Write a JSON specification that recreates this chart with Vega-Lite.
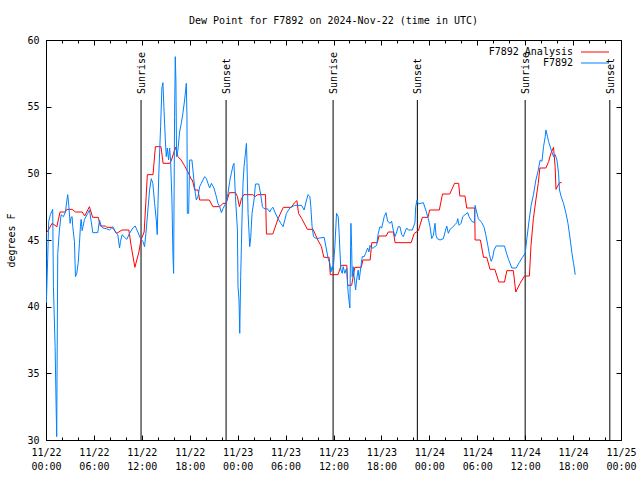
{
  "$schema": "https://vega.github.io/schema/vega-lite/v6.json",
  "width": 575,
  "height": 400,
  "autosize": {"type": "none"},
  "padding": {"left": 46, "top": 40, "right": 19, "bottom": 40},
  "background": "white",
  "config": {
    "view": {"stroke": "black", "strokeWidth": 1},
    "font": "DejaVu Sans Mono",
    "axis": {"labelFont": "DejaVu Sans Mono", "labelFontSize": 10, "labelColor": "black", "tickColor": "black", "grid": false, "domain": false, "titleFont": "DejaVu Sans Mono", "titleFontSize": 10, "titleFontWeight": "normal", "titleColor": "black"}
  },
  "title": {"text": "Dew Point for F7892 on 2024-Nov-22 (time in UTC)", "font": "DejaVu Sans Mono", "fontSize": 10, "fontWeight": "normal", "color": "black", "anchor": "middle", "offset": 9},
  "datasets": {
    "analysis": [
      {"h":0.0,"dp":45.5},{"h":0.30,"dp":45.75},{"h":0.76,"dp":46.25},{"h":1.36,"dp":46.0},{"h":1.76,"dp":47.1},{"h":2.42,"dp":47.1},{"h":2.62,"dp":47.3},{"h":3.27,"dp":47.3},{"h":3.68,"dp":47.1},{"h":4.53,"dp":47.1},{"h":4.84,"dp":46.8},{"h":5.44,"dp":47.5},{"h":5.84,"dp":46.7},{"h":6.55,"dp":46.7},{"h":6.80,"dp":46.05},{"h":7.45,"dp":46.05},{"h":7.60,"dp":45.95},{"h":8.26,"dp":45.95},{"h":8.46,"dp":45.8},{"h":8.86,"dp":45.5},{"h":9.52,"dp":45.75},{"h":10.37,"dp":45.75},{"h":10.68,"dp":44.5},{"h":11.13,"dp":42.95},{"h":11.63,"dp":44.1},{"h":11.89,"dp":45.0},{"h":12.29,"dp":45.6},{"h":12.54,"dp":48.25},{"h":12.69,"dp":49.9},{"h":13.40,"dp":49.9},{"h":13.70,"dp":52.0},{"h":14.40,"dp":52.0},{"h":14.66,"dp":50.75},{"h":15.51,"dp":50.75},{"h":15.71,"dp":51.0},{"h":16.21,"dp":51.95},{"h":16.52,"dp":51.25},{"h":16.92,"dp":51.0},{"h":17.32,"dp":50.6},{"h":17.78,"dp":50.1},{"h":18.23,"dp":49.5},{"h":18.33,"dp":49.5},{"h":18.63,"dp":48.75},{"h":19.04,"dp":48.75},{"h":19.24,"dp":48.0},{"h":20.45,"dp":48.0},{"h":20.90,"dp":47.5},{"h":21.76,"dp":47.5},{"h":22.16,"dp":47.75},{"h":22.56,"dp":47.75},{"h":22.96,"dp":48.55},{"h":23.72,"dp":48.55},{"h":23.97,"dp":48.25},{"h":24.22,"dp":47.5},{"h":24.47,"dp":48.1},{"h":24.77,"dp":48.4},{"h":25.88,"dp":48.4},{"h":26.18,"dp":48.25},{"h":26.49,"dp":48.4},{"h":27.49,"dp":48.4},{"h":27.60,"dp":45.45},{"h":28.40,"dp":45.45},{"h":29.06,"dp":46.6},{"h":29.71,"dp":47.45},{"h":30.72,"dp":47.45},{"h":31.12,"dp":47.8},{"h":31.42,"dp":47.95},{"h":31.62,"dp":47.0},{"h":32.03,"dp":46.6},{"h":32.73,"dp":45.8},{"h":33.44,"dp":45.8},{"h":34.04,"dp":45.0},{"h":34.49,"dp":44.5},{"h":34.79,"dp":43.7},{"h":35.45,"dp":43.7},{"h":35.60,"dp":42.4},{"h":36.56,"dp":42.4},{"h":36.96,"dp":43.1},{"h":37.67,"dp":43.1},{"h":37.77,"dp":41.6},{"h":38.27,"dp":41.6},{"h":38.67,"dp":42.95},{"h":39.48,"dp":42.95},{"h":39.68,"dp":43.5},{"h":40.59,"dp":43.5},{"h":40.79,"dp":44.8},{"h":41.49,"dp":44.8},{"h":41.69,"dp":45.3},{"h":42.60,"dp":45.3},{"h":42.85,"dp":45.6},{"h":43.50,"dp":45.6},{"h":43.71,"dp":44.8},{"h":45.72,"dp":44.8},{"h":46.12,"dp":45.5},{"h":46.63,"dp":45.7},{"h":47.13,"dp":46.7},{"h":47.83,"dp":46.7},{"h":48.04,"dp":47.25},{"h":49.25,"dp":47.25},{"h":49.65,"dp":48.45},{"h":50.56,"dp":48.45},{"h":51.16,"dp":49.25},{"h":51.67,"dp":49.25},{"h":51.82,"dp":48.3},{"h":52.47,"dp":48.3},{"h":52.68,"dp":47.4},{"h":53.68,"dp":47.4},{"h":53.73,"dp":45.0},{"h":54.39,"dp":45.0},{"h":54.79,"dp":43.7},{"h":55.19,"dp":43.7},{"h":55.60,"dp":42.8},{"h":56.20,"dp":42.8},{"h":56.70,"dp":41.85},{"h":57.41,"dp":41.85},{"h":57.71,"dp":42.7},{"h":58.52,"dp":42.7},{"h":58.82,"dp":41.1},{"h":59.37,"dp":41.75},{"h":59.92,"dp":42.3},{"h":60.53,"dp":42.3},{"h":60.73,"dp":44.6},{"h":61.03,"dp":46.6},{"h":61.34,"dp":48.0},{"h":61.64,"dp":49.25},{"h":61.84,"dp":50.4},{"h":62.59,"dp":50.4},{"h":62.95,"dp":50.9},{"h":63.25,"dp":51.55},{"h":63.55,"dp":51.95},{"h":63.75,"dp":50.5},{"h":63.86,"dp":48.8},{"h":64.11,"dp":49.1},{"h":64.31,"dp":49.3},{"h":64.56,"dp":49.3}
    ],
    "obs": [
      {"h":0.0,"dp":45.6},{"h":0.05,"dp":40.3},{"h":0.21,"dp":43.6},{"h":0.34,"dp":46.4},{"h":0.55,"dp":46.9},{"h":0.84,"dp":47.3},{"h":0.93,"dp":41.5},{"h":1.14,"dp":37.0},{"h":1.27,"dp":32.5},{"h":1.34,"dp":30.25},{"h":1.47,"dp":44.0},{"h":1.68,"dp":45.75},{"h":1.89,"dp":46.9},{"h":2.18,"dp":46.75},{"h":2.43,"dp":47.1},{"h":2.60,"dp":47.9},{"h":2.72,"dp":48.4},{"h":2.85,"dp":47.6},{"h":3.02,"dp":46.25},{"h":3.15,"dp":46.7},{"h":3.27,"dp":46.75},{"h":3.35,"dp":46.0},{"h":3.56,"dp":44.9},{"h":3.69,"dp":42.25},{"h":3.85,"dp":42.5},{"h":4.03,"dp":43.25},{"h":4.19,"dp":44.75},{"h":4.31,"dp":46.0},{"h":4.40,"dp":46.55},{"h":4.53,"dp":45.7},{"h":4.82,"dp":46.55},{"h":5.23,"dp":47.0},{"h":5.44,"dp":47.25},{"h":5.66,"dp":46.4},{"h":5.86,"dp":45.55},{"h":6.48,"dp":45.55},{"h":6.70,"dp":46.5},{"h":6.91,"dp":46.05},{"h":7.11,"dp":45.9},{"h":7.54,"dp":45.85},{"h":7.95,"dp":45.75},{"h":8.37,"dp":46.0},{"h":8.79,"dp":45.5},{"h":8.99,"dp":45.4},{"h":9.21,"dp":44.4},{"h":9.33,"dp":44.9},{"h":9.54,"dp":45.4},{"h":9.83,"dp":45.2},{"h":10.12,"dp":45.05},{"h":10.46,"dp":45.5},{"h":10.87,"dp":45.9},{"h":11.17,"dp":46.05},{"h":11.50,"dp":45.6},{"h":11.84,"dp":45.1},{"h":12.13,"dp":44.9},{"h":12.34,"dp":44.5},{"h":12.55,"dp":45.75},{"h":12.76,"dp":47.25},{"h":12.97,"dp":48.75},{"h":13.18,"dp":49.6},{"h":13.38,"dp":49.25},{"h":13.60,"dp":47.75},{"h":13.81,"dp":46.5},{"h":13.93,"dp":45.4},{"h":14.01,"dp":47.5},{"h":14.13,"dp":50.0},{"h":14.35,"dp":53.5},{"h":14.51,"dp":56.4},{"h":14.64,"dp":56.8},{"h":14.76,"dp":55.0},{"h":14.94,"dp":52.5},{"h":15.06,"dp":51.25},{"h":15.19,"dp":51.9},{"h":15.35,"dp":51.0},{"h":15.48,"dp":51.9},{"h":15.60,"dp":51.0},{"h":15.77,"dp":48.0},{"h":15.89,"dp":44.0},{"h":15.98,"dp":42.5},{"h":16.10,"dp":54.25},{"h":16.19,"dp":58.75},{"h":16.27,"dp":56.9},{"h":16.35,"dp":51.25},{"h":16.52,"dp":51.75},{"h":16.73,"dp":53.1},{"h":16.94,"dp":53.75},{"h":17.14,"dp":54.5},{"h":17.36,"dp":55.5},{"h":17.57,"dp":56.75},{"h":17.65,"dp":54.25},{"h":17.70,"dp":47.0},{"h":17.86,"dp":47.0},{"h":17.99,"dp":51.0},{"h":18.27,"dp":51.0},{"h":18.40,"dp":50.25},{"h":18.52,"dp":49.5},{"h":18.70,"dp":48.5},{"h":18.83,"dp":48.0},{"h":19.03,"dp":48.25},{"h":19.24,"dp":49.0},{"h":19.45,"dp":49.25},{"h":19.65,"dp":49.5},{"h":19.87,"dp":49.75},{"h":20.08,"dp":49.6},{"h":20.28,"dp":49.25},{"h":20.49,"dp":48.9},{"h":20.71,"dp":49.25},{"h":21.03,"dp":48.9},{"h":21.33,"dp":48.25},{"h":21.53,"dp":47.75},{"h":21.75,"dp":47.5},{"h":21.96,"dp":47.05},{"h":22.16,"dp":47.35},{"h":22.38,"dp":47.6},{"h":22.59,"dp":47.85},{"h":22.79,"dp":48.5},{"h":23.00,"dp":49.4},{"h":23.21,"dp":50.0},{"h":23.42,"dp":50.6},{"h":23.54,"dp":50.75},{"h":23.72,"dp":48.25},{"h":23.97,"dp":45.75},{"h":24.04,"dp":41.5},{"h":24.17,"dp":40.5},{"h":24.26,"dp":38.0},{"h":24.38,"dp":42.25},{"h":24.54,"dp":46.5},{"h":24.67,"dp":49.25},{"h":24.80,"dp":50.5},{"h":24.97,"dp":51.5},{"h":25.10,"dp":52.25},{"h":25.17,"dp":50.75},{"h":25.30,"dp":47.0},{"h":25.51,"dp":44.5},{"h":25.64,"dp":45.2},{"h":25.80,"dp":47.0},{"h":26.05,"dp":48.0},{"h":26.23,"dp":49.2},{"h":26.64,"dp":49.2},{"h":26.89,"dp":48.4},{"h":27.10,"dp":47.5},{"h":27.30,"dp":47.35},{"h":27.61,"dp":47.35},{"h":27.81,"dp":47.3},{"h":28.02,"dp":47.1},{"h":28.23,"dp":47.35},{"h":28.43,"dp":47.45},{"h":28.65,"dp":47.1},{"h":29.06,"dp":46.6},{"h":29.40,"dp":46.25},{"h":29.69,"dp":46.0},{"h":29.90,"dp":46.5},{"h":30.11,"dp":47.0},{"h":30.53,"dp":47.4},{"h":31.15,"dp":47.6},{"h":31.99,"dp":47.6},{"h":32.32,"dp":47.25},{"h":32.62,"dp":48.0},{"h":32.82,"dp":48.4},{"h":33.04,"dp":48.25},{"h":33.16,"dp":47.5},{"h":33.32,"dp":46.0},{"h":33.50,"dp":45.25},{"h":33.88,"dp":45.1},{"h":34.29,"dp":45.15},{"h":34.83,"dp":45.2},{"h":35.13,"dp":44.25},{"h":35.33,"dp":43.6},{"h":35.54,"dp":43.25},{"h":35.67,"dp":42.6},{"h":35.83,"dp":43.0},{"h":35.96,"dp":42.75},{"h":36.17,"dp":44.5},{"h":36.38,"dp":47.0},{"h":36.59,"dp":46.75},{"h":36.71,"dp":45.5},{"h":36.80,"dp":44.25},{"h":36.92,"dp":42.75},{"h":37.09,"dp":42.5},{"h":37.21,"dp":43.0},{"h":37.42,"dp":42.5},{"h":37.64,"dp":42.9},{"h":37.84,"dp":41.0},{"h":38.05,"dp":39.9},{"h":38.18,"dp":46.25},{"h":38.27,"dp":44.5},{"h":38.34,"dp":42.25},{"h":38.47,"dp":43.0},{"h":38.59,"dp":42.25},{"h":38.77,"dp":41.25},{"h":38.89,"dp":42.0},{"h":39.09,"dp":42.75},{"h":39.22,"dp":42.0},{"h":39.43,"dp":43.0},{"h":39.60,"dp":43.75},{"h":39.85,"dp":43.75},{"h":40.02,"dp":44.0},{"h":40.27,"dp":44.4},{"h":40.44,"dp":44.1},{"h":40.56,"dp":44.6},{"h":40.77,"dp":44.4},{"h":40.97,"dp":44.4},{"h":41.19,"dp":44.5},{"h":41.40,"dp":44.6},{"h":41.60,"dp":45.5},{"h":41.82,"dp":46.0},{"h":42.03,"dp":45.9},{"h":42.35,"dp":46.75},{"h":42.57,"dp":47.05},{"h":42.78,"dp":46.4},{"h":43.07,"dp":46.25},{"h":43.28,"dp":46.4},{"h":43.48,"dp":45.75},{"h":43.70,"dp":45.25},{"h":43.91,"dp":45.6},{"h":44.11,"dp":46.0},{"h":44.32,"dp":46.0},{"h":44.54,"dp":45.4},{"h":44.74,"dp":45.25},{"h":44.95,"dp":45.6},{"h":45.16,"dp":45.9},{"h":45.36,"dp":45.75},{"h":45.87,"dp":45.75},{"h":46.20,"dp":46.3},{"h":46.29,"dp":47.5},{"h":46.46,"dp":48.0},{"h":46.62,"dp":47.7},{"h":47.25,"dp":47.8},{"h":47.55,"dp":47.25},{"h":47.87,"dp":46.6},{"h":48.09,"dp":46.0},{"h":48.30,"dp":45.1},{"h":48.50,"dp":45.35},{"h":48.63,"dp":45.9},{"h":48.71,"dp":46.25},{"h":48.84,"dp":45.35},{"h":49.00,"dp":45.1},{"h":49.34,"dp":45.0},{"h":49.75,"dp":45.1},{"h":49.97,"dp":45.6},{"h":50.18,"dp":46.05},{"h":50.38,"dp":45.5},{"h":50.59,"dp":45.8},{"h":50.88,"dp":45.95},{"h":51.22,"dp":46.15},{"h":51.43,"dp":46.3},{"h":51.56,"dp":46.6},{"h":51.72,"dp":46.1},{"h":51.97,"dp":46.25},{"h":52.19,"dp":46.75},{"h":52.47,"dp":46.9},{"h":52.81,"dp":47.05},{"h":52.97,"dp":46.75},{"h":53.32,"dp":46.4},{"h":53.64,"dp":46.3},{"h":53.73,"dp":47.6},{"h":53.86,"dp":47.25},{"h":54.14,"dp":46.6},{"h":54.57,"dp":46.3},{"h":54.86,"dp":45.95},{"h":55.07,"dp":45.4},{"h":55.32,"dp":44.6},{"h":55.53,"dp":43.9},{"h":55.74,"dp":43.4},{"h":55.90,"dp":43.6},{"h":56.11,"dp":44.25},{"h":56.36,"dp":44.55},{"h":57.41,"dp":44.55},{"h":57.62,"dp":44.1},{"h":57.91,"dp":43.55},{"h":58.33,"dp":42.9},{"h":58.87,"dp":42.9},{"h":59.25,"dp":43.3},{"h":59.66,"dp":43.7},{"h":60.00,"dp":44.0},{"h":60.21,"dp":45.1},{"h":60.50,"dp":46.5},{"h":60.75,"dp":47.6},{"h":61.04,"dp":48.4},{"h":61.34,"dp":49.5},{"h":61.59,"dp":50.1},{"h":61.88,"dp":51.0},{"h":62.10,"dp":50.9},{"h":62.30,"dp":52.0},{"h":62.51,"dp":52.75},{"h":62.60,"dp":53.25},{"h":62.80,"dp":52.75},{"h":62.92,"dp":52.4},{"h":63.26,"dp":51.75},{"h":63.55,"dp":51.25},{"h":63.76,"dp":51.4},{"h":63.98,"dp":51.0},{"h":64.18,"dp":50.0},{"h":64.30,"dp":48.75},{"h":64.51,"dp":48.25},{"h":64.80,"dp":47.75},{"h":65.11,"dp":47.0},{"h":65.36,"dp":46.25},{"h":65.65,"dp":45.0},{"h":65.86,"dp":44.0},{"h":66.06,"dp":43.25},{"h":66.27,"dp":42.4}
    ],
    "sun": [
      {"h":11.9,"event":"Sunrise"},{"h":22.55,"event":"Sunset"},{"h":35.95,"event":"Sunrise"},{"h":46.5,"event":"Sunset"},{"h":60.0,"event":"Sunrise"},{"h":70.6,"event":"Sunset"}
    ]
  },
  "layer": [
    {
      "data": {"name": "sun"},
      "mark": {"type": "rule", "color": "black", "strokeWidth": 1},
      "encoding": {
        "x": {"field": "h", "type": "quantitative", "scale": {"domain": [0, 72], "nice": false, "zero": false},
              "axis": {"orient": "top", "values": [0,6,12,18,24,30,36,42,48,54,60,66,72], "offset": -5, "tickSize": 5, "labels": false, "title": null}},
        "y": {"datum": 30, "type": "quantitative", "scale": {"domain": [30, 60], "nice": false, "zero": false}, "axis": null},
        "y2": {"datum": 55.5}
      }
    },
    {
      "data": {"name": "sun"},
      "mark": {"type": "text", "angle": 270, "align": "left", "baseline": "middle", "dx": 6, "dy": 1, "font": "DejaVu Sans Mono", "fontSize": 10, "color": "black"},
      "encoding": {
        "x": {"field": "h", "type": "quantitative",
              "axis": {"orient": "top", "values": [0,2,4,6,8,10,12,14,16,18,20,22,24,26,28,30,32,34,36,38,40,42,44,46,48,50,52,54,56,58,60,62,64,66,68,70,72], "offset": -3, "tickSize": 3, "labels": false, "title": null}},
        "y": {"datum": 55.5, "type": "quantitative", "axis": null},
        "text": {"field": "event"}
      }
    },
    {
      "data": {"name": "analysis"},
      "mark": {"type": "line", "strokeWidth": 1, "clip": true},
      "encoding": {
        "x": {"field": "h", "type": "quantitative",
              "axis": {"orient": "bottom", "values": [0,6,12,18,24,30,36,42,48,54,60,66,72], "offset": -5, "tickSize": 5, "labelPadding": 7, "labelBaseline": "top", "labelLineHeight": 14, "labelOverlap": false, "labelFlush": false, "title": null,
                       "labelExpr": "['11/' + (22 + floor(datum.value / 24)), (datum.value % 24 < 10 ? '0' : '') + (datum.value % 24) + ':00']"}},
        "y": {"field": "dp", "type": "quantitative",
              "axis": {"orient": "left", "values": [30,35,40,45,50,55,60], "offset": -5, "tickSize": 5, "labelPadding": 7, "title": "degrees F", "titlePadding": 10}},
        "color": {"datum": "F7892 Analysis", "type": "nominal",
                  "scale": {"domain": ["F7892 Analysis", "F7892"], "range": ["#ff0000", "#0080ff"]},
                  "legend": {"orient": "none", "legendX": 544, "legendY": 7, "title": null, "symbolType": "M-14,0L14,0", "symbolSize": 4, "symbolStrokeWidth": 1, "symbolFillColor": "transparent", "labelAlign": "right", "labelOffset": -27, "labelFont": "DejaVu Sans Mono", "labelFontSize": 10, "labelColor": "black", "padding": 0, "rowPadding": 1}}
      }
    },
    {
      "data": {"name": "obs"},
      "mark": {"type": "line", "strokeWidth": 1, "clip": true},
      "encoding": {
        "x": {"field": "h", "type": "quantitative",
              "axis": {"orient": "bottom", "values": [0,2,4,6,8,10,12,14,16,18,20,22,24,26,28,30,32,34,36,38,40,42,44,46,48,50,52,54,56,58,60,62,64,66,68,70,72], "offset": -3, "tickSize": 3, "labels": false, "title": null}},
        "y": {"field": "dp", "type": "quantitative",
              "axis": {"orient": "right", "values": [30,35,40,45,50,55,60], "offset": -5, "tickSize": 5, "labels": false, "title": null}},
        "color": {"datum": "F7892", "type": "nominal"}
      }
    }
  ],
  "resolve": {"scale": {"x": "shared", "y": "shared", "color": "shared"}, "axis": {"x": "independent", "y": "independent"}}
}
